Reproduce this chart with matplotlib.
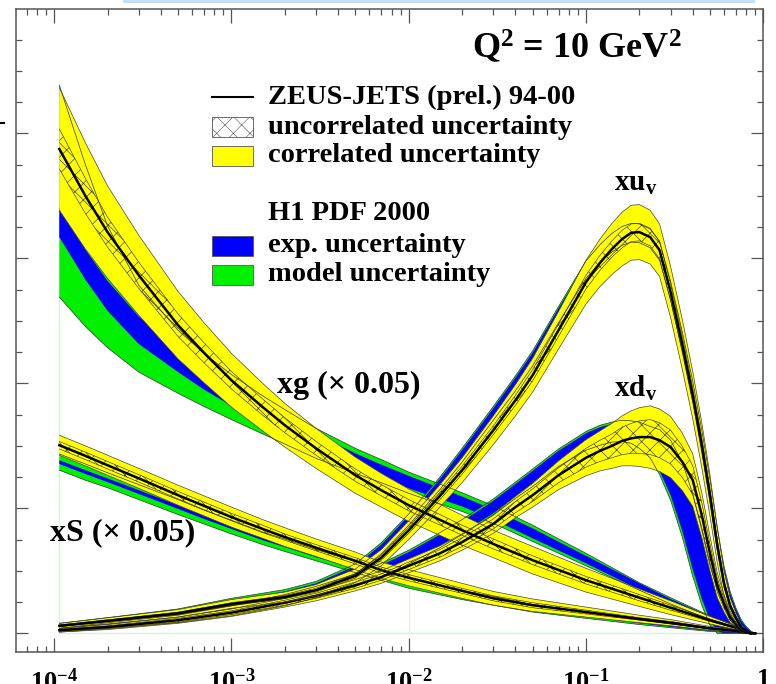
import numpy as np
import matplotlib.pyplot as plt
from matplotlib.patches import Rectangle
from matplotlib.lines import Line2D
from matplotlib.ticker import LogLocator, NullFormatter, MultipleLocator

plt.rcParams['font.family'] = 'Liberation Serif'
plt.rcParams['font.weight'] = 'bold'
plt.rcParams['mathtext.fontset'] = 'custom'
plt.rcParams['mathtext.rm'] = 'Liberation Serif:bold'
plt.rcParams['mathtext.it'] = 'Liberation Serif:bold'
plt.rcParams['mathtext.bf'] = 'Liberation Serif:bold'
plt.rcParams['hatch.linewidth'] = 0.4

# x grids (log x)
x_sea = [1.07e-4, 1.5e-4, 2e-4, 3e-4, 5e-4, 7e-4, 1e-3, 1.5e-3, 2e-3, 3e-3, 5e-3, 7e-3,
         1e-2, 2e-2, 3e-2, 5e-2, 0.1, 0.2, 0.3, 0.5, 0.7, 0.85]
x_val = [1.07e-4, 2e-4, 5e-4, 1e-3, 2e-3, 3e-3, 5e-3, 7e-3, 1e-2, 1.5e-2, 2e-2, 3e-2,
         4e-2, 5e-2, 7e-2, 0.1, 0.12, 0.14, 0.16, 0.18, 0.2, 0.23, 0.26, 0.3,
         0.35, 0.4, 0.45, 0.5, 0.55, 0.6, 0.65, 0.7, 0.75, 0.8, 0.85, 0.9]

# xg (x 0.05)
xg_zeus = [0.775, 0.700, 0.642, 0.573, 0.493, 0.449, 0.405, 0.362, 0.333, 0.296, 0.253, 0.229,
           0.205, 0.165, 0.143, 0.117, 0.085, 0.057, 0.041, 0.021, 0.009, 0.0]
xg_cor = [0.098, 0.085, 0.074, 0.064, 0.054, 0.048, 0.043, 0.038, 0.035, 0.032, 0.029, 0.027,
          0.026, 0.024, 0.022, 0.022, 0.019, 0.014, 0.011, 0.006, 0.003, 0.0]
xg_unc = [0.032, 0.028, 0.024, 0.021, 0.018, 0.016, 0.014, 0.013, 0.012, 0.011, 0.010, 0.009,
          0.009, 0.008, 0.008, 0.007, 0.006, 0.005, 0.004, 0.002, 0.001, 0.0]
xg_h1 = [0.658, 0.590, 0.540, 0.485, 0.437, 0.408, 0.380, 0.351, 0.332, 0.306, 0.277, 0.260,
         0.242, 0.211, 0.190, 0.160, 0.118, 0.075, 0.052, 0.025, 0.010, 0.0]
xg_exp = [0.024, 0.024, 0.024, 0.022, 0.019, 0.018, 0.016, 0.014, 0.014, 0.013, 0.011, 0.010,
          0.010, 0.008, 0.008, 0.008, 0.006, 0.005, 0.003, 0.002, 0.0015, 0.0]
xg_mod_dn = [0.120, 0.099, 0.083, 0.067, 0.053, 0.045, 0.038, 0.032, 0.029, 0.026, 0.021, 0.019,
             0.018, 0.016, 0.014, 0.013, 0.010, 0.006, 0.005, 0.003, 0.0015, 0.0]
xg_mod_up = [0.219, 0.160, 0.112, 0.072, 0.048, 0.040, 0.034, 0.029, 0.026, 0.022, 0.019, 0.018,
             0.016, 0.014, 0.014, 0.013, 0.010, 0.006, 0.005, 0.003, 0.0015, 0.0]

# xS (x 0.05)
xs_zeus = [0.301, 0.284, 0.269, 0.248, 0.221, 0.204, 0.186, 0.167, 0.154, 0.137, 0.116, 0.101,
           0.089, 0.068, 0.056, 0.045, 0.034, 0.023, 0.017, 0.008, 0.004, 0.0]
xs_cor = [0.016, 0.016, 0.016, 0.016, 0.016, 0.016, 0.016, 0.015, 0.015, 0.014, 0.014, 0.013,
          0.013, 0.012, 0.011, 0.010, 0.008, 0.006, 0.005, 0.003, 0.0015, 0.0]
xs_unc = [0.006, 0.006, 0.006, 0.006, 0.006, 0.006, 0.006, 0.006, 0.005, 0.005, 0.005, 0.005,
          0.005, 0.004, 0.004, 0.004, 0.003, 0.002, 0.002, 0.001, 0.0005, 0.0]
xs_h1 = [0.274, 0.258, 0.245, 0.226, 0.202, 0.186, 0.170, 0.152, 0.141, 0.125, 0.106, 0.093,
         0.080, 0.061, 0.052, 0.040, 0.029, 0.018, 0.012, 0.005, 0.002, 0.0]
xs_exp = [0.003, 0.003, 0.003, 0.003, 0.003, 0.003, 0.003, 0.003, 0.003, 0.003, 0.003, 0.003,
          0.003, 0.003, 0.003, 0.003, 0.002, 0.002, 0.0015, 0.001, 0.0005, 0.0]
xs_mod = [0.013, 0.013, 0.012, 0.012, 0.012, 0.011, 0.011, 0.010, 0.010, 0.009, 0.009, 0.008,
          0.008, 0.007, 0.007, 0.006, 0.005, 0.004, 0.003, 0.002, 0.001, 0.0]

# xu_v
xuv_zeus = [0.012, 0.020, 0.032, 0.047, 0.058, 0.069, 0.092, 0.121, 0.165, 0.220, 0.261, 0.325,
            0.373, 0.413, 0.485, 0.562, 0.593, 0.615, 0.631, 0.641, 0.642, 0.634, 0.613, 0.546,
            0.461, 0.381, 0.301, 0.221, 0.141, 0.080, 0.044, 0.025, 0.010, 0.004, 0.0, 0.0]
xuv_cor = [0.004, 0.005, 0.006, 0.007, 0.008, 0.009, 0.011, 0.013, 0.015, 0.018, 0.020, 0.023,
           0.025, 0.027, 0.030, 0.035, 0.038, 0.041, 0.043, 0.044, 0.044, 0.043, 0.042, 0.041,
           0.040, 0.038, 0.036, 0.033, 0.028, 0.020, 0.013, 0.008, 0.004, 0.002, 0.0, 0.0]
xuv_unc = [0.0015, 0.0015, 0.002, 0.002, 0.0025, 0.003, 0.0035, 0.004, 0.005, 0.006, 0.0065, 0.007,
           0.008, 0.009, 0.010, 0.011, 0.012, 0.013, 0.014, 0.014, 0.014, 0.014, 0.014, 0.013,
           0.013, 0.012, 0.012, 0.011, 0.009, 0.006, 0.004, 0.0025, 0.0013, 0.0006, 0.0, 0.0]
xuv_h1 = [0.012, 0.021, 0.034, 0.050, 0.063, 0.076, 0.103, 0.136, 0.182, 0.240, 0.285, 0.352,
          0.400, 0.440, 0.510, 0.582, 0.608, 0.625, 0.636, 0.641, 0.640, 0.632, 0.612, 0.548,
          0.466, 0.388, 0.310, 0.232, 0.155, 0.095, 0.056, 0.033, 0.016, 0.007, 0.002, 0.0]
xuv_exp = [0.002, 0.002, 0.003, 0.003, 0.004, 0.004, 0.005, 0.006, 0.006, 0.007, 0.008, 0.008,
           0.009, 0.009, 0.010, 0.011, 0.011, 0.012, 0.012, 0.012, 0.012, 0.012, 0.012, 0.012,
           0.012, 0.012, 0.012, 0.012, 0.011, 0.010, 0.008, 0.006, 0.004, 0.003, 0.001, 0.0]
xuv_mod = [0.004, 0.004, 0.005, 0.006, 0.007, 0.007, 0.008, 0.009, 0.009, 0.010, 0.011, 0.011,
           0.012, 0.012, 0.013, 0.014, 0.014, 0.015, 0.015, 0.015, 0.015, 0.015, 0.015, 0.015,
           0.015, 0.015, 0.015, 0.015, 0.014, 0.013, 0.011, 0.008, 0.006, 0.004, 0.002, 0.0]

# xd_v
xdv_zeus = [0.005, 0.010, 0.021, 0.033, 0.049, 0.060, 0.077, 0.090, 0.108, 0.128, 0.146, 0.175,
            0.202, 0.221, 0.253, 0.281, 0.292, 0.300, 0.308, 0.312, 0.314, 0.314, 0.309, 0.298,
            0.274, 0.245, 0.189, 0.128, 0.077, 0.048, 0.026, 0.015, 0.005, 0.002, 0.0, 0.0]
xdv_cor = [0.003, 0.004, 0.005, 0.006, 0.007, 0.008, 0.009, 0.010, 0.011, 0.012, 0.013, 0.015,
           0.017, 0.019, 0.023, 0.029, 0.032, 0.036, 0.040, 0.044, 0.047, 0.050, 0.050, 0.049,
           0.046, 0.042, 0.036, 0.028, 0.020, 0.014, 0.009, 0.006, 0.003, 0.001, 0.0, 0.0]
xdv_unc = [0.0015, 0.002, 0.003, 0.003, 0.004, 0.004, 0.005, 0.005, 0.006, 0.006, 0.007, 0.008,
           0.009, 0.010, 0.012, 0.015, 0.017, 0.019, 0.022, 0.024, 0.026, 0.028, 0.028, 0.027,
           0.025, 0.023, 0.020, 0.015, 0.011, 0.008, 0.005, 0.003, 0.0015, 0.0005, 0.0, 0.0]
xdv_h1 = [0.007, 0.013, 0.024, 0.036, 0.053, 0.066, 0.085, 0.101, 0.122, 0.149, 0.170, 0.202,
          0.229, 0.249, 0.281, 0.308, 0.317, 0.322, 0.324, 0.322, 0.317, 0.306, 0.290, 0.261,
          0.213, 0.157, 0.105, 0.061, 0.034, 0.020, 0.009, 0.004, 0.0, 0.0, 0.0, 0.0]
xdv_exp = [0.002, 0.003, 0.004, 0.005, 0.006, 0.006, 0.007, 0.008, 0.008, 0.009, 0.009, 0.010,
           0.010, 0.011, 0.011, 0.012, 0.013, 0.013, 0.014, 0.015, 0.017, 0.020, 0.030, 0.040,
           0.050, 0.055, 0.050, 0.040, 0.030, 0.020, 0.010, 0.005, 0.0, 0.0, 0.0, 0.0]
xdv_mod = [0.005, 0.006, 0.007, 0.008, 0.009, 0.009, 0.010, 0.011, 0.011, 0.012, 0.012, 0.013,
           0.013, 0.014, 0.014, 0.015, 0.016, 0.016, 0.017, 0.018, 0.021, 0.025, 0.036, 0.048,
           0.060, 0.066, 0.060, 0.048, 0.036, 0.024, 0.012, 0.006, 0.0, 0.0, 0.0, 0.0]

x_ticks = [1e-4, 1e-3, 1e-2, 1e-1, 1]
x_tick_labels = [r'$10^{-4}$', r'$10^{-3}$', r'$10^{-2}$', r'$10^{-1}$', '1']

YELLOW = '#ffff00'
BLUE = '#0000ff'
GREEN = '#00f000'

fig = plt.figure(figsize=(7.76, 6.84), dpi=100)
ax = fig.add_axes([15.7 / 776, 1 - 651.7 / 684, 747.6 / 776, 642.4 / 684])


def draw_h1(x, c, exp, mdn, mup):
    x = np.array(x)
    c = np.array(c)
    lo = np.maximum(c - np.array(mdn), 0)
    hi = c + np.array(mup)
    ax.fill_between(x, lo, hi, facecolor=GREEN, lw=0)
    ax.plot(x, lo, color='#333333', lw=0.5)
    ax.plot(x, hi, color='#333333', lw=0.5)
    ax.fill_between(x, np.maximum(c - np.array(exp), 0), c + np.array(exp), facecolor=BLUE, lw=0)


def draw_zeus(x, c, unc, cor):
    x = np.array(x)
    c = np.array(c)
    lo = np.maximum(c - np.array(cor), 0)
    hi = c + np.array(cor)
    ax.fill_between(x, lo, hi, facecolor=YELLOW, lw=0)
    ax.plot(x, lo, color='#444444', lw=0.5)
    ax.plot(x, hi, color='#444444', lw=0.5)
    ulo = np.maximum(c - np.array(unc), 0)
    uhi = c + np.array(unc)
    ax.fill_between(x, ulo, uhi, facecolor='none', edgecolor='#222222', hatch='xx', lw=0)
    ax.plot(x, ulo, color='#222222', lw=0.4)
    ax.plot(x, uhi, color='#222222', lw=0.4)
    ax.plot(x, c, color='black', lw=1.8)


# faint edges seen in the original
ax.plot([x_sea[0], 1], [0, 0], color='#d6f5d6', lw=1, zorder=0)
ax.plot([x_sea[0], x_sea[0]], [0, xg_h1[0] + xg_mod_up[0]], color='#d6f5d6', lw=1, zorder=0)
ax.plot([1e-2, 1e-2], [0, xs_h1[12]], color='#e0f5e0', lw=1, zorder=0)

draw_h1(x_sea, xg_h1, xg_exp, xg_mod_dn, xg_mod_up)
draw_h1(x_sea, xs_h1, xs_exp, xs_mod, xs_mod)
draw_h1(x_val, xuv_h1, xuv_exp, xuv_mod, xuv_mod)
draw_h1(x_val, xdv_h1, xdv_exp, xdv_mod, xdv_mod)

draw_zeus(x_sea, xg_zeus, xg_unc, xg_cor)
draw_zeus(x_sea, xs_zeus, xs_unc, xs_cor)
draw_zeus(x_val, xdv_zeus, xdv_unc, xdv_cor)
draw_zeus(x_val, xuv_zeus, xuv_unc, xuv_cor)

ax.set_xscale('log')
ax.set_xlim(6.07e-5, 1.0)
ax.set_ylim(-0.0294, 0.9985)
ax.set_xticks(x_ticks)
ax.set_xticklabels(x_tick_labels, fontsize=19)
ax.xaxis.set_minor_locator(LogLocator(base=10, subs=np.arange(2, 10)))
ax.xaxis.set_minor_formatter(NullFormatter())
ax.yaxis.set_major_locator(MultipleLocator(0.2))
ax.yaxis.set_minor_locator(MultipleLocator(0.05))
ax.tick_params(axis='both', which='both', direction='in', top=True, right=True,
               color='#555555', width=0.9, labelleft=False)
ax.tick_params(axis='x', which='major', length=10, pad=12)
ax.tick_params(axis='x', which='minor', length=4.5)
ax.tick_params(axis='y', which='major', length=8.5)
ax.tick_params(axis='y', which='minor', length=4.3)
for s in ax.spines.values():
    s.set_color('#555555')
    s.set_linewidth(1.1)


def P(px, py):
    return px / 776, 1 - py / 684


# legend drawn by hand
fig.add_artist(Line2D([212 / 776, 253 / 776], [1 - 97 / 684] * 2, color='black', lw=1.5))
bw, bh = 41 / 776, 20 / 684
fig.add_artist(Rectangle(P(212, 137), bw, bh, facecolor='white', edgecolor='#555555',
                         hatch='xx', lw=0.6))
fig.add_artist(Rectangle(P(212, 166), bw, bh, facecolor=YELLOW, edgecolor='#555555', lw=0.6))
fig.add_artist(Rectangle(P(212, 256), bw, bh, facecolor=BLUE, edgecolor='#555555', lw=0.6))
fig.add_artist(Rectangle(P(212, 285), bw, bh, facecolor=GREEN, edgecolor='#555555', lw=0.6))
legend_rows = [(97, 'ZEUS-JETS (prel.) 94-00'), (127, 'uncorrelated uncertainty'),
               (156, 'correlated uncertainty'), (213, 'H1 PDF 2000'),
               (245, 'exp. uncertainty'), (274, 'model uncertainty')]
for py, t in legend_rows:
    fig.text(*P(268, py), t, fontsize=20.5, ha='left', va='center')

fig.text(*P(577, 47), r'Q$^{2}$ = 10 GeV$^{2}$', fontsize=26, ha='center', va='center')
fig.text(*P(636, 183), r'xu$_{\rm v}$', fontsize=21, ha='center', va='center')
fig.text(*P(636, 388), r'xd$_{\rm v}$', fontsize=21, ha='center', va='center')
fig.text(*P(349, 385), 'xg (\u00d7 0.05)', fontsize=23, ha='center', va='center')
fig.text(*P(123, 533), 'xS (\u00d7 0.05)', fontsize=23, ha='center', va='center')

# light blue strip at the very top and a clipped label fragment at left
fig.add_artist(Rectangle(P(123, 3), 632 / 776, 3 / 684, facecolor='#c6def8', edgecolor='none'))
fig.add_artist(Line2D([0, 4 / 776], [1 - 123 / 684] * 2, color='black', lw=1.5))

fig.savefig('out.png', dpi=100)
